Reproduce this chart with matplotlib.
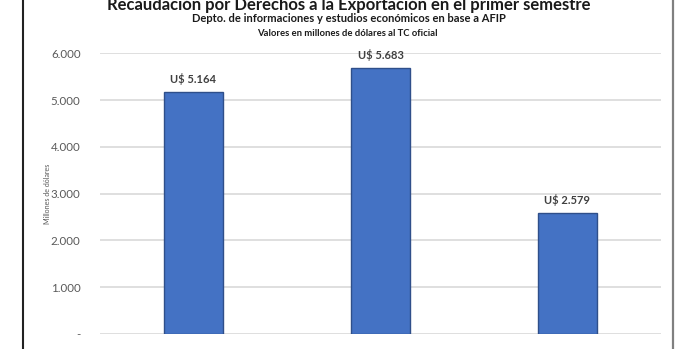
import matplotlib
matplotlib.use("Agg")
import matplotlib.pyplot as plt
from matplotlib.lines import Line2D
from matplotlib.ticker import FuncFormatter

years = ["2021", "2022", "2023"]
values = [5164, 5683, 2579]
yticks = [0, 1000, 2000, 3000, 4000, 5000, 6000]
title = "Recaudación por Derechos a la Exportación en el primer semestre"
subtitle = "Depto. de informaciones y estudios económicos en base a AFIP"
subtitle2 = "Valores en millones de dólares al TC oficial"
ylabel = "Millones de dólares"

W, H = 696, 349
fig = plt.figure(figsize=(W / 100, H / 100), dpi=100)
fig.patch.set_facecolor("white")

def fx(px):
    return px / W

def fy(py):
    return 1 - py / H

ax = fig.add_axes([fx(100), fy(334), fx(661) - fx(100), fy(53.3) - fy(334)])
x = list(range(len(years)))
ax.bar(x, values, width=0.315, color="#4472C4", edgecolor="#2F4F8A", linewidth=1.0, zorder=3)
ax.set_xlim(-0.5, len(years) - 0.5)
ax.set_ylim(0, 6000)
ax.set_yticks(yticks)
ax.yaxis.set_major_formatter(FuncFormatter(lambda v, p: "-" if v == 0 else f"{int(v):,}".replace(",", ".")))
ax.grid(axis="y", color="#D9D9D9", linewidth=1.2, zorder=0)
for s in ax.spines.values():
    s.set_visible(False)
ax.tick_params(axis="y", length=0, pad=14, labelsize=8.3, labelcolor="#595959")
ax.tick_params(axis="x", length=0, pad=12, labelsize=9, labelcolor="#595959")
for lab in ax.get_yticklabels():
    lab.set_fontfamily(["Lato", "DejaVu Sans"])
ax.set_xticks(x)
ax.set_xticklabels(years, fontfamily=["Lato", "DejaVu Sans"], fontweight="bold")

for xi, v in zip(x, values):
    ax.annotate("U$ " + f"{v:,}".replace(",", "."), (xi, v), xytext=(0, 5), textcoords="offset points",
                ha="center", va="bottom", fontsize=8, fontweight="bold", color="#404040",
                fontfamily=["Lato", "DejaVu Sans"])

fig.text(fx(47), fy(194), ylabel, rotation=90, ha="center", va="center", fontsize=5.1,
         color="#595959", fontfamily=["Lato", "DejaVu Sans"])

fig.text(fx(349), fy(5), title, ha="center", va="center", fontsize=12, fontweight="bold",
         color="#1a1a1a", fontfamily=["Liberation Sans Narrow", "Lato", "DejaVu Sans"])
fig.text(fx(349), fy(19), subtitle, ha="center", va="center", fontsize=8, fontweight="bold",
         color="#1a1a1a", fontfamily=["Liberation Sans Narrow", "Lato", "DejaVu Sans"])
fig.text(fx(347), fy(33), subtitle2, ha="center", va="center", fontsize=6.8, fontweight="bold",
         color="#1a1a1a", fontfamily=["Liberation Sans Narrow", "Lato", "DejaVu Sans"])

fig.add_artist(Line2D([fx(23), fx(23)], [0, 1], transform=fig.transFigure, color="#222222", linewidth=1.5))
fig.add_artist(Line2D([fx(672.5), fx(672.5)], [0, 1], transform=fig.transFigure, color="#808080", linewidth=1.6))

fig.savefig("out.png", dpi=100, facecolor="white")
